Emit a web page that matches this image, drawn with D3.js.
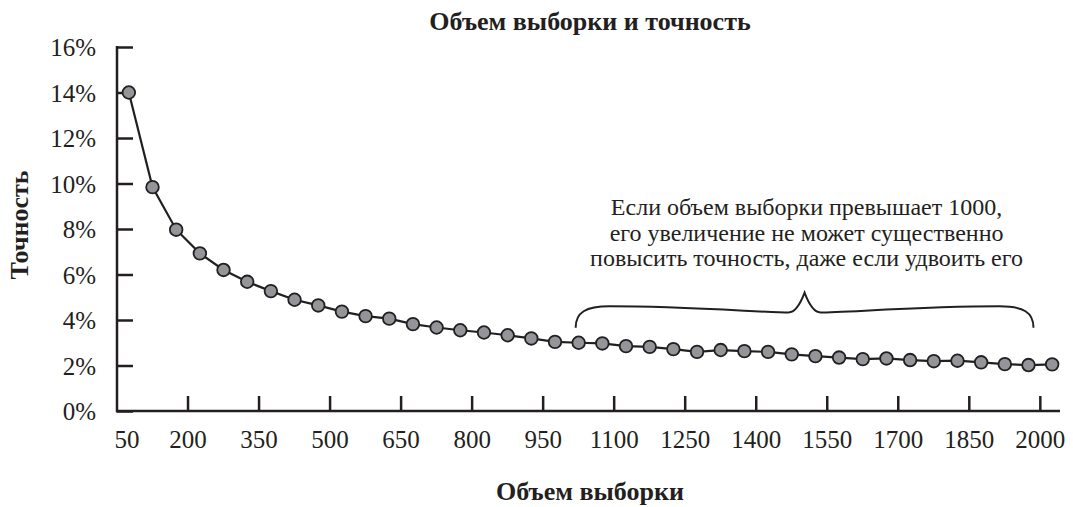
<!DOCTYPE html>
<html>
<head>
<meta charset="utf-8">
<script src="https://cdn.jsdelivr.net/npm/d3@7"></script>
<style>
  body { margin: 0; background: #fff; }
  text { font-family: "Liberation Serif", "Times New Roman", serif; fill: #231f20; }
</style>
</head>
<body>
<div id="chart"></div>
<script>
// sample sizes and margin of error (%)
var sizes = [50, 100, 150, 200, 250, 300, 350, 400, 450, 500,
  550, 600, 650, 700, 750, 800, 850, 900, 950, 1000,
  1050, 1100, 1150, 1200, 1250, 1300, 1350, 1400, 1450, 1500,
  1550, 1600, 1650, 1700, 1750, 1800, 1850, 1900, 1950, 2000];
var accuracy = [14.0, 9.84, 7.97, 6.93, 6.2, 5.68, 5.27, 4.89, 4.64, 4.37,
  4.17, 4.06, 3.82, 3.67, 3.55, 3.45, 3.33, 3.19, 3.04, 3.0,
  2.97, 2.85, 2.82, 2.72, 2.6, 2.68, 2.63, 2.6, 2.49, 2.41,
  2.35, 2.28, 2.31, 2.24, 2.19, 2.21, 2.14, 2.06, 2.02, 2.05];
var xTickLabels = [50, 200, 350, 500, 650, 800, 950, 1100, 1250, 1400, 1550, 1700, 1850, 2000];
var yTicks = [0, 2, 4, 6, 8, 10, 12, 14, 16];

var title = "Объем выборки и точность";
var xTitle = "Объем выборки";
var yTitle = "Точность";
var note = ["Если объем выборки превышает 1000,",
  "его увеличение не может существенно",
  "повысить точность, даже если удвоить его"];

var width = 1073, height = 507;
var dark = "#231f20";

var svg = d3.select("#chart").append("svg")
  .attr("width", width)
  .attr("height", height);

var x = d3.scaleBand().domain(sizes).range([117, 1064]);
var y = d3.scaleLinear().domain([0, 16]).range([411, 47]);
var bw = x.bandwidth();

// y axis
var yAxis = svg.append("g")
  .attr("transform", "translate(117,0)")
  .call(d3.axisLeft(y).tickValues(yTicks).tickSize(-16).tickSizeOuter(0)
    .tickPadding(21).tickFormat(function (d) { return d + "%"; }));
yAxis.select(".domain").remove();
yAxis.selectAll(".tick line").attr("stroke", dark).attr("stroke-width", 2.5);
yAxis.selectAll(".tick text")
  .style("font-family", "Liberation Serif")
  .attr("font-size", 25).attr("fill", dark).attr("dy", "0.34em");

svg.append("line")
  .attr("x1", 117).attr("x2", 117)
  .attr("y1", y(16) - 1).attr("y2", y(0) + 1.25)
  .attr("stroke", dark).attr("stroke-width", 2.5);

// x axis, ticks on the left edge of each labelled band
var xAxis = svg.append("g")
  .attr("transform", "translate(" + (-bw / 2) + "," + y(0) + ")")
  .call(d3.axisBottom(x).tickValues(xTickLabels).tickSize(-15).tickSizeOuter(0).tickPadding(19));
xAxis.select(".domain").remove();
xAxis.selectAll(".tick line").attr("stroke", dark).attr("stroke-width", 2.5);
xAxis.selectAll(".tick text")
  .style("font-family", "Liberation Serif")
  .attr("font-size", 25).attr("fill", dark);
xAxis.selectAll(".tick").filter(function (d) { return d == 50; })
  .select("line").remove();
xAxis.selectAll(".tick").filter(function (d) { return d == 50; })
  .select("text").attr("dx", 10);

svg.append("line")
  .attr("x1", 116).attr("x2", 1060)
  .attr("y1", y(0)).attr("y2", y(0))
  .attr("stroke", dark).attr("stroke-width", 2.5);

// line + points
var data = sizes.map(function (s, i) { return { size: s, value: accuracy[i] }; });
var line = d3.line()
  .x(function (d) { return x(d.size) + bw / 2; })
  .y(function (d) { return y(d.value); });

svg.append("path")
  .datum(data)
  .attr("d", line)
  .attr("fill", "none")
  .attr("stroke", dark)
  .attr("stroke-width", 2.2);

svg.selectAll(".dot")
  .data(data)
  .enter().append("circle")
  .attr("class", "dot")
  .attr("cx", function (d) { return x(d.size) + bw / 2; })
  .attr("cy", function (d) { return y(d.value); })
  .attr("r", 6.3)
  .attr("fill", "#939598")
  .attr("stroke", dark)
  .attr("stroke-width", 1.8);

// brace over 1000..2000
var bx1 = x(1000) + bw / 2 - 3, bx2 = x(1950) + bw / 2 + 5;
var bmid = (bx1 + bx2) / 2;
var yEnd = y(3.66), yArmOut = y(4.6), yArmIn = y(4.33), yTip = y(5.2);
var brace = d3.path();
brace.moveTo(bx1, yEnd);
brace.bezierCurveTo(bx1, yArmOut + 6, bx1 + 10, yArmOut, bx1 + 34, yArmOut);
brace.bezierCurveTo(bx1 + 110, yArmOut, bmid - 40, yArmIn, bmid - 16, yArmIn);
brace.bezierCurveTo(bmid - 8, yArmIn, bmid - 3, yTip + 8, bmid, yTip);
brace.bezierCurveTo(bmid + 3, yTip + 8, bmid + 8, yArmIn, bmid + 16, yArmIn);
brace.bezierCurveTo(bmid + 40, yArmIn, bx2 - 110, yArmOut, bx2 - 34, yArmOut);
brace.bezierCurveTo(bx2 - 10, yArmOut, bx2, yArmOut + 6, bx2, yEnd);
svg.append("path")
  .attr("d", brace.toString())
  .attr("fill", "none")
  .attr("stroke", dark)
  .attr("stroke-width", 2);

svg.append("g").selectAll("text")
  .data(note)
  .enter().append("text")
  .attr("x", bmid + 2)
  .attr("y", function (d, i) { return 215 + i * 25.5; })
  .attr("text-anchor", "middle")
  .attr("font-size", 24)
  .text(function (d) { return d; });

// titles
svg.append("text")
  .attr("x", 590).attr("y", 30)
  .attr("text-anchor", "middle")
  .attr("font-size", 26).attr("font-weight", "bold")
  .text(title);

svg.append("text")
  .attr("x", 590).attr("y", 500)
  .attr("text-anchor", "middle")
  .attr("font-size", 26).attr("font-weight", "bold")
  .text(xTitle);

svg.append("text")
  .attr("transform", "translate(28,225) rotate(-90)")
  .attr("text-anchor", "middle")
  .attr("font-size", 26).attr("font-weight", "bold")
  .text(yTitle);
</script>
</body>
</html>
